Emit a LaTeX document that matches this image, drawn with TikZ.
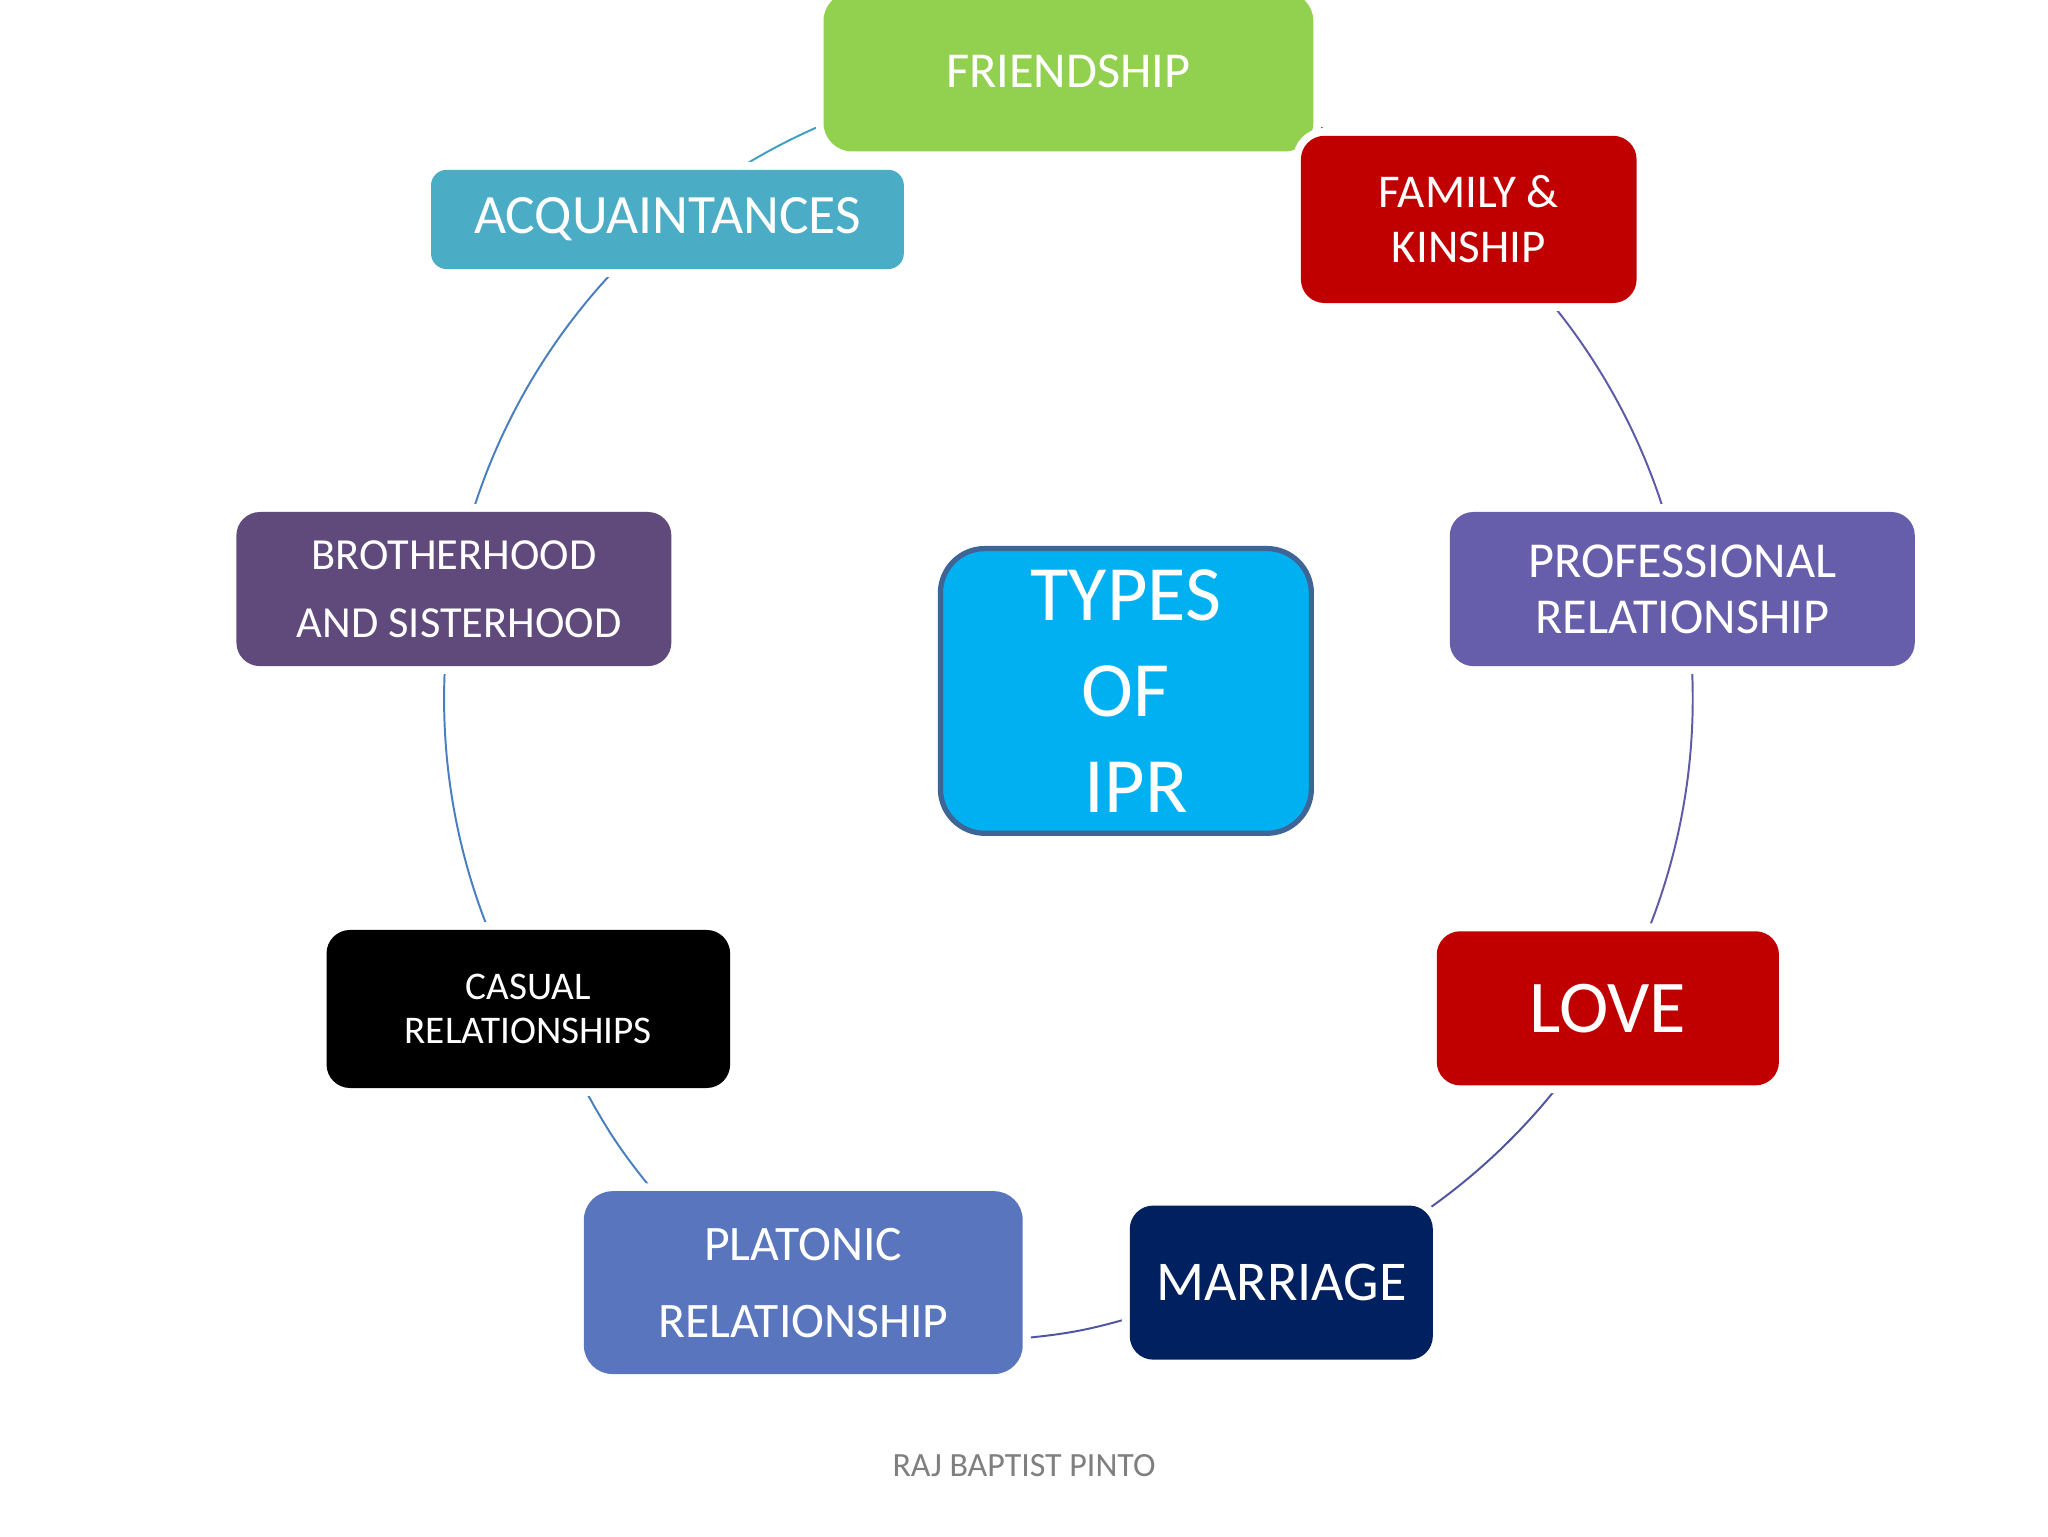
\documentclass[tikz,border=0pt]{standalone}
\usepackage{fontspec}
\setmainfont{Carlito}
\usetikzlibrary{calc}
\pgfdeclarelayer{background}
\pgfsetlayers{background,main}
\definecolor{cfri}{HTML}{92D050}
\definecolor{cred}{HTML}{C00000}
\definecolor{cacq}{HTML}{4BACC6}
\definecolor{cbro}{HTML}{604A7B}
\definecolor{cpro}{HTML}{675EAB}
\definecolor{ctyp}{HTML}{00B0F0}
\definecolor{ctypb}{HTML}{3F6496}
\definecolor{cpla}{HTML}{5875BE}
\definecolor{cmar}{HTML}{002060}
\definecolor{craj}{HTML}{7F7F7F}
\definecolor{lteal}{HTML}{3FA1C0}
\definecolor{lblue}{HTML}{4A7FBF}
\definecolor{lpurp}{HTML}{5E5BA6}
\definecolor{lpurp2}{HTML}{5055A3}
\begin{document}
\begin{tikzpicture}[x=1pt,y=1pt,
  tbox/.style={rectangle, rounded corners=18pt, inner sep=0pt, text=white,
    align=center, preaction={draw=white, line width=12pt}},
  conn/.style={line width=1.5pt}]
\useasboundingbox (0,0) rectangle (1568,1176);
\coordinate (hub) at (818,641);
\node[tbox, fill=cfri, rounded corners=22pt, minimum width=375pt, minimum height=122pt,
  font=\fontsize{38.5}{46}\selectfont] (fri) at (818,1121) {FRIENDSHIP};
\node[tbox, fill=cacq, rounded corners=12pt, minimum width=362pt, minimum height=76pt,
  font=\fontsize{42.5}{50}\selectfont] (acq) at (511,1008) {ACQUAINTANCES};
\node[tbox, fill=cred, minimum width=257pt, minimum height=128pt,
  preaction={draw=white, line width=9pt},
  font=\fontsize{36}{42}\selectfont] (fam) at (1124.5,1008) {FAMILY \&\\KINSHIP};
\node[tbox, fill=cbro, minimum width=333pt, minimum height=118pt,
  font=\fontsize{34}{52}\selectfont] (bro) at (347.5,725) {BROTHERHOOD\\\hspace*{8pt}AND SISTERHOOD};
\node[tbox, fill=cpro, minimum width=356pt, minimum height=118pt,
  font=\fontsize{38.5}{43}\selectfont] (pro) at (1288,725) {PROFESSIONAL\\RELATIONSHIP};
\node[rectangle, rounded corners=34pt, inner sep=0pt, text=white, align=center,
  fill=ctyp, draw=ctypb, line width=4pt, minimum width=284pt, minimum height=218pt,
  font=\fontsize{60}{73.5}\selectfont] (typ) at (862,647) {TYPES\\OF\\\hspace*{16pt}IPR};
\node[tbox, fill=black, minimum width=309pt, minimum height=121pt,
  font=\fontsize{30}{34}\selectfont] (cas) at (404.5,403.5) {CASUAL\\RELATIONSHIPS};
\node[tbox, fill=cred, minimum width=262pt, minimum height=118pt,
  font=\fontsize{57}{66}\selectfont] (lov) at (1231,404) {LOVE};
\node[tbox, fill=cpla, rounded corners=22pt, minimum width=336pt, minimum height=140pt,
  font=\fontsize{38}{59}\selectfont] (pla) at (615,194) {PLATONIC\\RELATIONSHIP};
\node[tbox, fill=cmar, minimum width=232pt, minimum height=118pt,
  font=\fontsize{43}{50}\selectfont] (mar) at (981,194) {MARRIAGE};
\node[text=craj, font=\fontsize{26}{30}\selectfont] (raj) at (784,54) {RAJ BAPTIST PINTO};
\coordinate (m1) at (862,166);
\coordinate (m2) at (789,152);
\coordinate (p1) at (497,268);
\coordinate (p2) at (450,338);
\begin{pgfonlayer}{background}
\fill[white] (0,0) rectangle (1568,1176);
\draw[conn, lteal] (hub) ++(130:478) arc[start angle=130, end angle=90, radius=478];
\draw[conn, lpurp] (hub) ++(90:478) arc[start angle=90, end angle=50, radius=478];
\draw[conn, lpurp] (hub) ++(50:478) arc[start angle=50, end angle=10, radius=478];
\draw[conn, lpurp] (hub) ++(10:478) arc[start angle=10, end angle=-30, radius=478];
\draw[conn, lpurp2] (hub) ++(-30:478) arc[start angle=-30, end angle=-70, radius=478];
\draw[conn, lpurp2] (m1) to[bend left=5] (m2);
\draw[conn, lblue] (p1) to[bend left=5] (p2);
\draw[conn, lblue] (hub) ++(-150:478) arc[start angle=-150, end angle=-190, radius=478];
\draw[conn, lblue] (hub) ++(170:478) arc[start angle=170, end angle=130, radius=478];
\end{pgfonlayer}
\end{tikzpicture}
\end{document}
